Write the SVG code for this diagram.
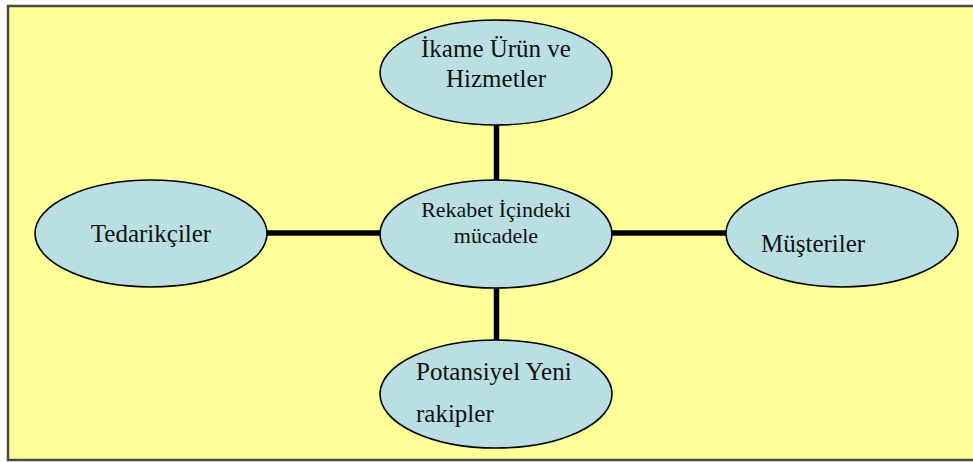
<svg xmlns="http://www.w3.org/2000/svg" width="973" height="462" viewBox="0 0 973 462">
<style>
.node{fill:#B9DFE3;stroke:#000;stroke-width:1.6}
.t{font-family:"Liberation Serif","Times New Roman",serif;font-size:25px;fill:#111}
.c{stroke:#000;stroke-width:5.5;fill:none}
</style>
<rect x="8" y="6" width="970" height="454" fill="#FFFF99" stroke="#4a4a4a" stroke-width="2.5"/>
<g id="connectors">
<line class="c" x1="267" y1="233" x2="380" y2="233"/>
<line class="c" x1="612" y1="233" x2="726" y2="233"/>
<line class="c" x1="496.5" y1="125" x2="496.5" y2="180"/>
<line class="c" x1="496.5" y1="288" x2="496.5" y2="340"/>
</g>
<g id="top">
<ellipse class="node" cx="496" cy="72.5" rx="116" ry="52.5"/>
<text class="t" x="496" y="57" text-anchor="middle">İkame Ürün ve</text>
<text class="t" x="496" y="87" text-anchor="middle">Hizmetler</text>
</g>
<g id="center">
<ellipse class="node" cx="496" cy="234" rx="116" ry="54"/>
<text class="t" x="496" y="217" text-anchor="middle" style="font-size:22px">Rekabet İçindeki</text>
<text class="t" x="496" y="243" text-anchor="middle" style="font-size:22px">mücadele</text>
</g>
<g id="left">
<ellipse class="node" cx="151" cy="233.5" rx="116" ry="53.5"/>
<text class="t" x="151" y="242" text-anchor="middle">Tedarikçiler</text>
</g>
<g id="right">
<ellipse class="node" cx="842" cy="233.5" rx="116" ry="53.5"/>
<text class="t" x="761" y="252">Müşteriler</text>
</g>
<g id="bottom">
<ellipse class="node" cx="496" cy="394" rx="116" ry="54"/>
<text class="t" x="416" y="380">Potansiyel Yeni</text>
<text class="t" x="416" y="422">rakipler</text>
</g>
</svg>
